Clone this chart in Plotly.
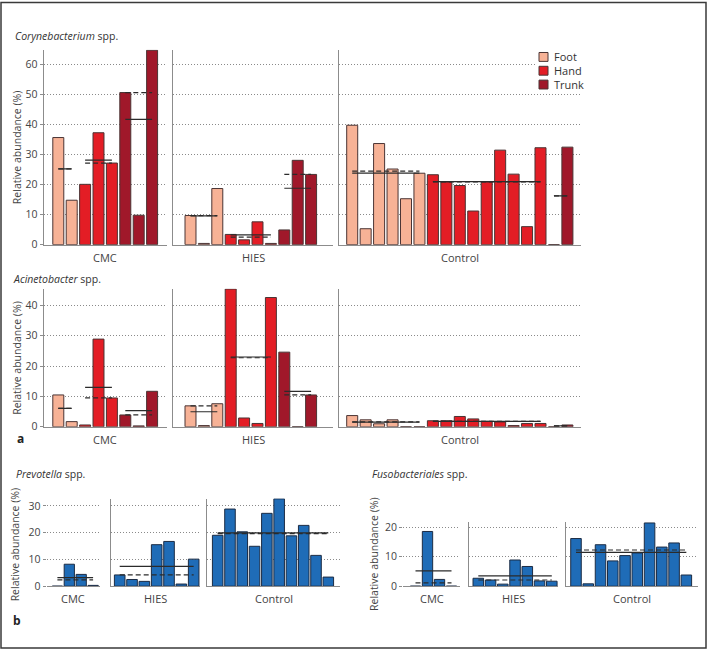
import numpy as np
import plotly.graph_objects as go

W, H = 708, 657

groups = ["CMC", "HIES", "Control"]
sites = ["Foot", "Hand", "Trunk"]
site_colors = ["#F7B296", "#E31D25", "#A0182A"]
blue = "#1F6CB7"

# relative abundance (%) per sample, split by body site
cory_cmc = {"Foot": [35.7, 14.8], "Hand": [20.1, 37.3, 27.2], "Trunk": [50.7, 9.8, 64.8]}
cory_hies = {"Foot": [9.7, 0.4, 18.7], "Hand": [3.4, 1.6, 7.6, 0.4], "Trunk": [4.9, 28.1, 23.4]}
cory_ctrl = {"Foot": [39.8, 5.3, 33.7, 25.2, 15.3, 23.8],
             "Hand": [23.3, 20.9, 19.7, 11.2, 20.9, 31.5, 23.5, 6.0, 32.3],
             "Trunk": [0.0, 32.5]}

acin_cmc = {"Foot": [10.5, 1.7], "Hand": [0.6, 28.9, 9.5], "Trunk": [3.9, 0.3, 11.7]}
acin_hies = {"Foot": [6.9, 0.4, 7.6], "Hand": [45.4, 2.9, 1.1, 42.6], "Trunk": [24.6, 0.0, 10.5]}
acin_ctrl = {"Foot": [3.7, 2.3, 1.0, 2.3, 0.0, 0.0],
             "Hand": [2.0, 2.0, 3.4, 2.6, 1.8, 1.6, 0.4, 1.1, 1.1],
             "Trunk": [0.0, 0.6]}

prev_cmc = [0.0, 8.2, 4.4, 0.3]
prev_hies = [4.2, 2.5, 1.8, 15.5, 16.7, 0.8, 10.1]
prev_ctrl = [19.0, 28.8, 20.3, 14.9, 27.2, 32.6, 18.8, 22.7, 11.5, 3.4]

fuso_cmc = [0.0, 18.6, 2.3, 0.0]
fuso_hies = [2.7, 2.1, 0.7, 8.9, 6.7, 1.8, 1.7]
fuso_ctrl = [16.2, 0.8, 14.1, 8.6, 10.4, 11.3, 21.5, 13.3, 14.7, 3.8]

FONT = "Open Sans"
TXT = "#333333"
AX = "#8c8c8c"

fig = go.Figure()
layout = {}
n = [0]


def fx(p):
    return p / W


def fy(p):
    return 1 - p / H


def panel(parts, xbox, ybox, ymax, bar_w, ticks, yline):
    # parts: list of (name, values, colour); xbox: (left, right, first centre, step) in px
    n[0] += 1
    k = "" if n[0] == 1 else str(n[0])
    L, R, c0, step = xbox
    top, bottom = ybox
    pos = 0
    lines = []
    for name, vals, col in parts:
        xs = list(range(pos, pos + len(vals)))
        fig.add_trace(go.Bar(
            x=xs, y=vals, width=bar_w, name=name, showlegend=False,
            marker=dict(color=col, line=dict(color="#4a3434" if col != blue else "#1c2c44", width=1)),
            xaxis="x" + k, yaxis="y" + k, hoverinfo="skip"))
        lines.append((xs[0], xs[-1], float(np.mean(vals)), float(np.median(vals))))
        pos += len(vals)
    for x0, x1, m, md in lines:
        fig.add_trace(go.Scatter(x=[x0, x1], y=[md, md], mode="lines", showlegend=False,
                                 line=dict(color="#2b2b2b", width=1.2, dash="5px,3px"),
                                 xaxis="x" + k, yaxis="y" + k, hoverinfo="skip"))
        fig.add_trace(go.Scatter(x=[x0, x1], y=[m, m], mode="lines", showlegend=False,
                                 line=dict(color="#2b2b2b", width=1.2),
                                 xaxis="x" + k, yaxis="y" + k, hoverinfo="skip"))
    layout["xaxis" + k] = dict(
        domain=[fx(L), fx(R)], range=[(L - c0) / step, (R - c0) / step],
        showgrid=False, zeroline=False, showticklabels=False, ticks="",
        showline=True, linecolor=AX, linewidth=1, anchor="y" + k, fixedrange=True)
    layout["yaxis" + k] = dict(
        domain=[fy(bottom), fy(top)], range=[0, ymax], dtick=10,
        showgrid=True, gridcolor="#8a8a8a", griddash="1px,2px", gridwidth=1, zeroline=False,
        showticklabels=ticks, ticks="outside" if ticks else "", ticklen=3, tickcolor=AX,
        tickfont=dict(family=FONT, size=10.5, color="#444444"),
        showline=yline, linecolor=AX, linewidth=1, anchor="x" + k, fixedrange=True)


def site_parts(d):
    return [(s, d[s], c) for s, c in zip(sites, site_colors)]


row_x = [(43.5, 167, 58.3, 13.4), (173, 333, 190.5, 13.4), (338.5, 581, 352.2, 13.45)]
for i, d in enumerate([cory_cmc, cory_hies, cory_ctrl]):
    panel(site_parts(d), row_x[i], (48.3, 246), 65, 0.82, i == 0, True)
for i, d in enumerate([acin_cmc, acin_hies, acin_ctrl]):
    panel(site_parts(d), row_x[i], (290.7, 430.7), 45.5, 0.82, i == 0, True)

prev_box = (503.5, 592.3)
prev_x = [(46.7, 100, 57.4, 11.9), (111, 200, 119.7, 12.33), (207.3, 340, 217.7, 12.29)]
for i, v in enumerate([prev_cmc, prev_hies, prev_ctrl]):
    panel([(groups[i], v, blue)], prev_x[i], prev_box, 32.7, 0.86, i == 0, i > 0)

fuso_box = (527, 592.3)
fuso_x = [(403, 460, 415.5, 12.0), (469, 558, 478.3, 12.25), (566, 698, 576, 12.26)]
for i, v in enumerate([fuso_cmc, fuso_hies, fuso_ctrl]):
    panel([(groups[i], v, blue)], fuso_x[i], fuso_box, 21.9, 0.86, i == 0, i > 0)

ann = []


def text(x, y, s, size=10.5, angle=0, xanchor="center", color=TXT):
    ann.append(dict(x=fx(x), y=fy(y), xref="paper", yref="paper", text=s, showarrow=False,
                    xanchor=xanchor, yanchor="middle", textangle=angle,
                    font=dict(family=FONT, size=size, color=color)))


text(13, 34, "<i>Corynebacterium</i> spp.", xanchor="left")
text(11, 281, "<i>Acinetobacter</i> spp.", xanchor="left")
text(14, 479, "<i>Prevotella</i> spp.", xanchor="left")
text(370, 479, "<i>Fusobacteriales</i> spp.", xanchor="left")

for y0, y1 in [(48.3, 246), (290.7, 430.7)]:
    text(17, (y0 + y1) / 2, "Relative abundance (%)", angle=-90, color="#444444")
    for (L, R, c0, step), g in zip(row_x, groups):
        text((L + R) / 2, y1 + 13, g, size=11, color="#444444")
text(15, sum(prev_box) / 2 + 2, "Relative abundance (%)", angle=-90, color="#444444")
text(374, sum(fuso_box) / 2, "Relative abundance (%)", angle=-90, color="#444444")
for boxes in (prev_x, fuso_x):
    for (L, R, c0, step), g in zip(boxes, groups):
        text((L + R) / 2, 605, g, size=11, color="#444444")

text(15, 443, "<b>a</b>", size=12, xanchor="left", color="#222222")
text(11, 627, "<b>b</b>", size=12, xanchor="left", color="#222222")

# legend for the body sites, drawn as a compact key like the original
shapes = [dict(type="rect", xref="paper", yref="paper", layer="above",
               x0=fx(536), x1=fx(584), y0=fy(92), y1=fy(48),
               fillcolor="white", line=dict(width=0))]
for j, (s, c) in enumerate(zip(sites, site_colors)):
    yc = 55.7 + 14 * j
    shapes.append(dict(type="rect", xref="paper", yref="paper", layer="above",
                       x0=fx(539), x1=fx(548), y0=fy(yc + 4.5), y1=fy(yc - 4.5),
                       fillcolor=c, line=dict(color="#4a3434", width=1)))
    text(552, yc, s, size=11, xanchor="left")

shapes.append(dict(type="rect", xref="paper", yref="paper", x0=fx(1), x1=fx(706),
                   y0=fy(655), y1=fy(0.5), line=dict(color="#3a3a3a", width=1.5)))

fig.update_layout(
    width=W, height=H, margin=dict(l=0, r=0, t=0, b=0),
    paper_bgcolor="white", plot_bgcolor="white", barmode="overlay",
    font=dict(family=FONT, size=10.5, color=TXT),
    showlegend=False,
    annotations=ann,
    shapes=shapes,
    **layout,
)

# the page body has a default 8px margin; drop it so the figure sits flush in the window
fig.write_html("out.html", config={"displayModeBar": False},
               post_script="document.body.style.margin='0px';")
